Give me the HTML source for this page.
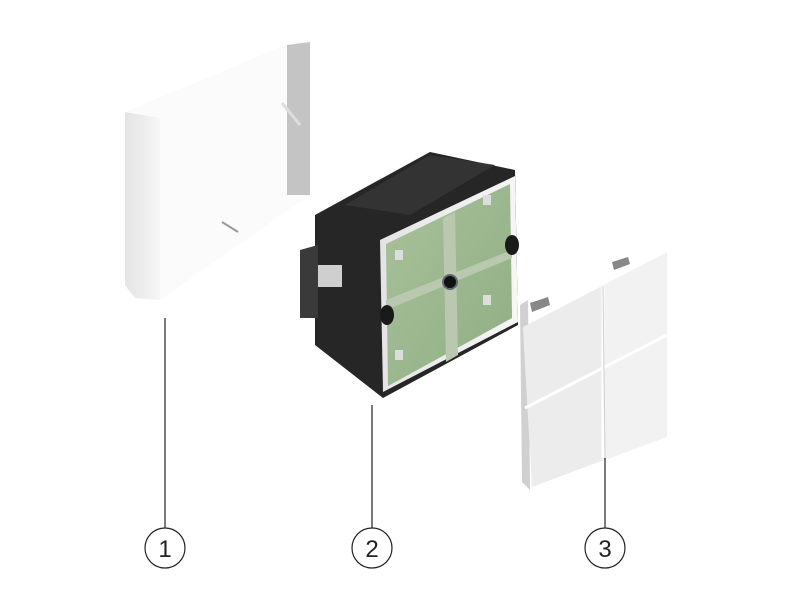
<!DOCTYPE html>
<html><head><style>body{margin:0;background:#fff}svg{display:block}</style></head>
<body>
<svg width="800" height="600" viewBox="0 0 800 600" xmlns="http://www.w3.org/2000/svg">
<defs>
<linearGradient id="lf" x1="0" x2="1"><stop offset="0" stop-color="#e4e4e4"/><stop offset="1" stop-color="#f6f6f6"/></linearGradient>
<linearGradient id="gr" x1="0" y1="0" x2="1" y2="1"><stop offset="0" stop-color="#a9c19a"/><stop offset="1" stop-color="#8fae84"/></linearGradient>
</defs>
<!-- part 1 frame -->
<polygon points="125,112 298,40 310,45 310,195 160,300 130,295 125,285" fill="#fbfbfb"/>
<polygon points="125,112 160,118 160,300 135,298 125,285" fill="url(#lf)"/>
<polygon points="287,45 310,42 310,195 287,195" fill="#c4c4c4"/>
<line x1="282" y1="103" x2="300" y2="125" stroke="#ddd" stroke-width="3"/>
<line x1="222" y1="222" x2="238" y2="232" stroke="#999" stroke-width="2"/>
<!-- part 2 module -->
<polygon points="315,215 430,152 515,170 518,325 383,398 315,345" fill="#262626"/>
<polygon points="345,205 430,155 495,165 410,215" fill="#333"/>
<polygon points="300,250 318,245 318,318 300,318" fill="#3a3a3a"/>
<rect x="318" y="265" width="24" height="22" fill="#cfcfcf"/>
<polygon points="380,240 515,176 518,322 383,392" fill="url(#lf)"/>
<polygon points="386,244 510,184 512,318 388,386" fill="url(#gr)"/>
<polygon points="443,218 455,212 458,355 446,362" fill="#b9c8ae"/>
<polygon points="386,300 512,250 512,258 386,310" fill="#b9c8ae"/>
<circle cx="450" cy="282" r="7" fill="#111" stroke="#667" stroke-width="2"/>
<ellipse cx="387" cy="315" rx="7" ry="10" fill="#1a1a1a"/>
<ellipse cx="512" cy="245" rx="7" ry="10" fill="#1a1a1a"/>
<rect x="395" y="250" width="8" height="10" fill="#ddd"/>
<rect x="483" y="195" width="8" height="10" fill="#ddd"/>
<rect x="395" y="350" width="8" height="10" fill="#ddd"/>
<rect x="483" y="295" width="8" height="10" fill="#ddd"/>
<!-- part 3 keypad -->
<polygon points="520,305 528,300 530,490 522,482" fill="#d0d0d0"/>
<polygon points="523,327 667,252 667,437 532,487" fill="#f2f2f2"/>
<polygon points="523,327 603,286 603,460 532,487" fill="#ececec"/>
<line x1="603" y1="287" x2="603" y2="458" stroke="#fff" stroke-width="3"/>
<line x1="525" y1="408" x2="667" y2="335" stroke="#fff" stroke-width="3"/>
<line x1="603" y1="287" x2="605" y2="458" stroke="#ccc" stroke-width="1"/>
<polygon points="530,303 548,297 550,305 532,312" fill="#888"/>
<polygon points="612,262 628,257 630,264 614,270" fill="#888"/>
<!-- leaders -->
<g stroke="#222" stroke-width="1.2" fill="none">
<line x1="165" y1="318" x2="165" y2="528"/>
<line x1="372" y1="405" x2="372" y2="528"/>
<line x1="605" y1="458" x2="605" y2="528"/>
<circle cx="165" cy="548" r="20" fill="#fff"/>
<circle cx="372" cy="548" r="20" fill="#fff"/>
<circle cx="605" cy="548" r="20" fill="#fff"/>
</g>
<g font-family="Liberation Sans, sans-serif" font-size="24" text-anchor="middle" fill="#222">
<text x="165" y="557">1</text><text x="372" y="557">2</text><text x="605" y="557">3</text>
</g>
</svg>
</body></html>
